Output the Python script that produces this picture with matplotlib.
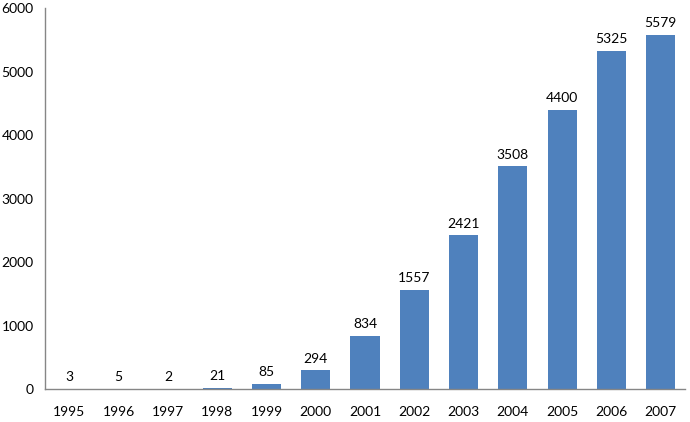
import matplotlib.pyplot as plt

years = ['1995', '1996', '1997', '1998', '1999', '2000', '2001',
         '2002', '2003', '2004', '2005', '2006', '2007']
counts = [3, 5, 2, 21, 85, 294, 834, 1557, 2421, 3508, 4400, 5325, 5579]
yticks = [0, 1000, 2000, 3000, 4000, 5000, 6000]

plt.rcParams['font.family'] = ['Lato', 'DejaVu Sans']

fig = plt.figure(figsize=(6.9, 4.22), dpi=100)
ax = fig.add_axes([0.065, 0.078, 0.928, 0.903])

x = range(len(years))
bars = ax.bar(x, counts, width=0.59, color='#4F81BD')
for b, v in zip(bars, counts):
    ax.text(b.get_x() + b.get_width() / 2, v + 90, str(v),
            ha='center', va='bottom', fontsize=10, color='black')

ax.set_xlim(-0.5, len(years) - 0.5)
ax.set_ylim(0, 6000)
ax.set_yticks(yticks)
ax.set_xticks(list(x))
ax.set_xticklabels(years)
ax.tick_params(length=0, labelsize=10, colors='black')
ax.tick_params(axis='x', pad=12)
ax.tick_params(axis='y', pad=8)

for s in ['top', 'right']:
    ax.spines[s].set_visible(False)
for s in ['left', 'bottom']:
    ax.spines[s].set_color('#868686')
    ax.spines[s].set_linewidth(1)

fig.savefig('out.png', dpi=100)
